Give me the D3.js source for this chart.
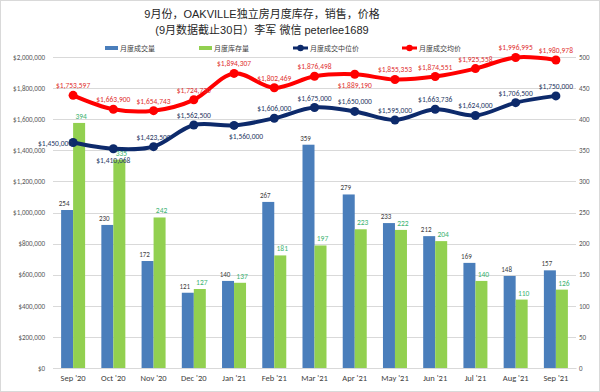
<!DOCTYPE html>
<html><head><meta charset="utf-8">
<script src="https://cdn.jsdelivr.net/npm/d3@7"></script>
<style>body{margin:0;background:#fff}svg{display:block}text{font-family:"Noto Sans CJK SC","Noto Sans",sans-serif}</style>
</head><body><svg id="c" width="600" height="392"></svg>
<script>
const months = ["Sep '20","Oct '20","Nov '20","Dec '20","Jan '21","Feb '21","Mar '21","Apr '21","May '21","Jun '21","Jul '21","Aug '21","Sep '21"];
const sales = [254,230,172,121,140,267,359,279,233,212,169,148,157];
const inventory = [394,335,242,127,137,181,197,223,222,204,140,110,126];
const medianPrice = [1450000,1410068,1423500,1562500,1560000,1606000,1675000,1650000,1595000,1663736,1624000,1706500,1750000];
const avgPrice = [1753597,1663900,1654743,1724730,1894307,1802469,1876498,1889190,1855353,1874551,1925558,1996995,1980978];
const leftTicks = [0,200000,400000,600000,800000,1000000,1200000,1400000,1600000,1800000,2000000];
const rightTicks = [0,50,100,150,200,250,300,350,400,450,500];
const titleLines = ["9月份，OAKVILLE独立房月度库存，销售，价格","(9月数据截止30日）李军 微信 peterlee1689"];
const legendNames = ["月度成交量","月度库存量","月度成交中位价","月度成交均价"];
// label placement
const medPos = ["left","below","above","above","belowright","above","above","above","above","above","above","above","above"];
const avgPos = ["above","above","above","above","above","above","above","below","above","above","above","above","above"];

const svg = d3.select("#c");
const W=600,H=392;
svg.append("rect").attr("x",0.5).attr("y",0.5).attr("width",W-1).attr("height",H-1).attr("fill","#fff").attr("stroke","#d9d9d9");

const m={l:53,r:576,t:57,b:368};
const x = d3.scaleBand().domain(months).range([m.l,m.r]);
const xi = d3.scaleBand().domain(["s","i"]).range([0,24]);
const yL = d3.scaleLinear().domain([0,2000000]).range([m.b,m.t]);
const yR = d3.scaleLinear().domain([0,500]).range([m.b,m.t]);

// gridlines
svg.append("g").selectAll("line").data(leftTicks).join("line")
 .attr("x1",m.l).attr("x2",m.r).attr("y1",d=>Math.round(yL(d))+0.5).attr("y2",d=>Math.round(yL(d))+0.5)
 .attr("stroke","#d9d9d9").attr("stroke-width",1);

const lblFont="Calibri,'Liberation Sans',sans-serif";
// axes
const fmt = d=>"$"+d3.format(",")(d);
const gl = svg.append("g").attr("transform",`translate(${m.l-8},0)`)
 .call(d3.axisLeft(yL).tickValues(leftTicks).tickFormat(fmt).tickSize(0).tickPadding(0));
gl.select(".domain").remove();
gl.selectAll("text").attr("fill","#595959").style("font-size","7px").style("font-family",lblFont);
const gr = svg.append("g").attr("transform",`translate(${m.r+3},0)`)
 .call(d3.axisRight(yR).tickValues(rightTicks).tickSize(0).tickPadding(0));
gr.select(".domain").remove();
gr.selectAll("text").attr("fill","#595959").style("font-size","7px").style("font-family",lblFont);
const gx = svg.append("g").attr("transform",`translate(0,${m.b})`)
 .call(d3.axisBottom(x).tickSize(0).tickPadding(7));
gx.select(".domain").attr("stroke","#d9d9d9");
gx.selectAll("text").attr("fill","#404040").style("font-size","8.5px").style("font-family",lblFont);

// bars
const bx = i=>x(months[i])+(x.bandwidth()-24)/2;
svg.append("g").selectAll("rect").data(sales).join("rect")
 .attr("x",(d,i)=>bx(i)+xi("s")).attr("width",xi.bandwidth()).attr("y",d=>yR(d)).attr("height",d=>m.b-yR(d)).attr("fill","#4a7ebb");
svg.append("g").selectAll("rect").data(inventory).join("rect")
 .attr("x",(d,i)=>bx(i)+xi("i")).attr("width",xi.bandwidth()).attr("y",d=>yR(d)).attr("height",d=>m.b-yR(d)).attr("fill","#92d050");
svg.append("g").selectAll("text").data(sales).join("text")
 .attr("x",(d,i)=>bx(i)+xi("s")+xi.bandwidth()/2-3).attr("y",d=>yR(d)-4).attr("text-anchor","middle")
 .style("font-size","7px").style("font-family",lblFont).attr("fill","#404040").text(d=>d);
svg.append("g").selectAll("text").data(inventory).join("text")
 .attr("x",(d,i)=>bx(i)+xi("i")+xi.bandwidth()/2+2).attr("y",d=>yR(d)-4).attr("text-anchor","middle")
 .style("font-size","7.5px").style("font-family",lblFont).attr("fill","#3cb371").text(d=>d);

// lines
const cx = i=>x(months[i])+x.bandwidth()/2;
function drawLine(data,color,pos){
  const line=d3.line().x((d,i)=>cx(i)).y(d=>yL(d)).curve(d3.curveCatmullRom.alpha(0.5));
  svg.append("path").datum(data).attr("d",line).attr("fill","none").attr("stroke",color).attr("stroke-width",4).attr("stroke-linejoin","round");
  svg.append("g").selectAll("circle").data(data).join("circle").attr("cx",(d,i)=>cx(i)).attr("cy",d=>yL(d)).attr("r",4.5).attr("fill",color);
  svg.append("g").selectAll("text").data(data).join("text")
   .attr("x",(d,i)=>{const p=pos[i];return cx(i)+(p==="left"?-18:p==="belowright"?12:0);})
   .attr("y",(d,i)=>{const p=pos[i];return yL(d)+(p==="below"||p==="belowright"?14:p==="left"?3:-7);})
   .attr("text-anchor","middle").style("font-size","7.5px").style("font-family",lblFont)
   .attr("fill",color==="#ff0000"?"#e03030":"#1f3864").text(d=>fmt(d));
}
drawLine(medianPrice,"#0d2a6b",medPos);
drawLine(avgPrice,"#ff0000",avgPos);

// title
svg.append("g").selectAll("text").data(titleLines).join("text")
 .attr("x",262).attr("y",(d,i)=>18+i*16).attr("text-anchor","middle").style("font-size","11px")
 .style("font-family","'Liberation Sans','Noto Sans CJK SC',sans-serif").attr("fill","#262626").text(d=>d);

// legend
const lg = svg.append("g");
const lx=[105,199,293,402];
const lcol=["#4a7ebb","#92d050","#0d2a6b","#ff0000"];
legendNames.forEach((n,i)=>{
  const g=lg.append("g").attr("transform",`translate(${lx[i]},48)`);
  if(i<2) g.append("rect").attr("x",0).attr("y",-2).attr("width",13).attr("height",4).attr("fill",lcol[i]);
  else {g.append("line").attr("x1",0).attr("x2",15).attr("y1",0).attr("y2",0).attr("stroke",lcol[i]).attr("stroke-width",3);
        g.append("circle").attr("cx",7.5).attr("cy",0).attr("r",3.2).attr("fill",lcol[i]);}
  g.append("text").attr("x",i<2?15:17).attr("y",2.5).style("font-size","7px").attr("fill","#404040").text(n);
});
</script></body></html>
